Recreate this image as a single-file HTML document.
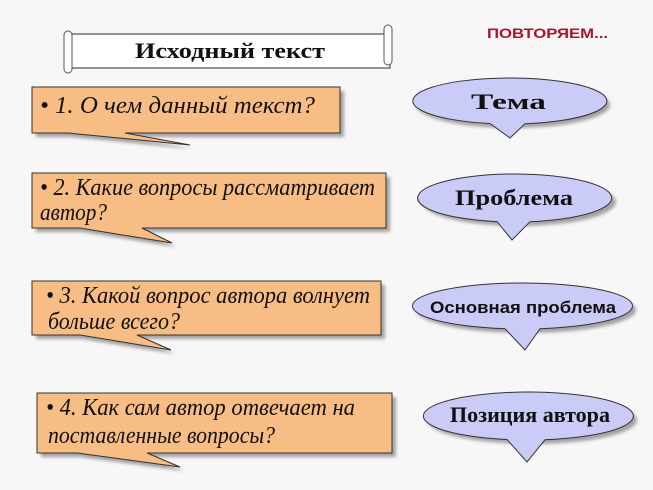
<!DOCTYPE html>
<html><head><meta charset="utf-8"><style>
html,body{margin:0;padding:0;background:#f7f7f7;}
svg{display:block}
.q{font-family:"Liberation Serif","DejaVu Serif",serif;font-style:italic;font-size:24px;fill:#111;}
.b{font-family:"Liberation Serif",serif;font-weight:bold;font-size:22px;fill:#111;}
</style></head><body>
<svg width="653" height="490" viewBox="0 0 653 490" xmlns="http://www.w3.org/2000/svg">
<defs><filter id="sh" x="-10%" y="-10%" width="130%" height="140%"><feGaussianBlur stdDeviation="1.5"/></filter></defs>
<rect width="653" height="490" fill="#f7f7f7"/>
<path d="M70 34 H390 V68 H70 Z" fill="#fff" stroke="#555" stroke-width="1.2"/>
<rect x="64" y="31" width="8" height="42" rx="4" fill="#fff" stroke="#555"/>
<rect x="384" y="25" width="8" height="40" rx="4" fill="#fff" stroke="#555"/>
<text x="135" y="58" class="b" textLength="190" lengthAdjust="spacingAndGlyphs">Исходный текст</text>
<text x="487" y="38" font-family="Liberation Sans,sans-serif" font-size="14" font-weight="bold" fill="#b01030" textLength="121" lengthAdjust="spacingAndGlyphs">ПОВТОРЯЕМ...</text>

<g fill="#6a6a6a" opacity="0.6" filter="url(#sh)">
<path d="M36 91 H344 V137 H128 L194 149 L70 137 H36Z"/>
<path d="M36 177 H390 V232 H145 L176 247 L82 232 H36Z"/>
<path d="M36 285 H385 V339 H140 L175 354 L82 339 H36Z"/>
<path d="M41 397 H396 V457 H150 L184 471 L80 457 H41Z"/>
</g>
<g fill="#f8bd85" stroke="#333" stroke-width="1">
<path d="M32 87 H340 V133 H125 L190 145 L68 133 H32Z"/>
<path d="M32 173 H386 V228 H142 L172 243 L80 228 H32Z"/>
<path d="M32 281 H381 V335 H137 L171 350 L80 335 H32Z"/>
<path d="M37 393 H392 V453 H147 L180 467 L77 453 H37Z"/>
</g>
<text x="40" y="113" class="q" textLength="275" lengthAdjust="spacingAndGlyphs">• 1. О чем данный текст?</text>
<text x="40" y="195" class="q" textLength="335" lengthAdjust="spacingAndGlyphs">• 2. Какие вопросы рассматривает</text>
<text x="40" y="220" class="q" textLength="67" lengthAdjust="spacingAndGlyphs">автор?</text>
<text x="46" y="303" class="q" textLength="324" lengthAdjust="spacingAndGlyphs">• 3. Какой вопрос автора волнует</text>
<text x="48" y="329" class="q" textLength="132" lengthAdjust="spacingAndGlyphs">больше всего?</text>
<text x="46" y="415" class="q" textLength="309" lengthAdjust="spacingAndGlyphs">• 4. Как сам автор отвечает на</text>
<text x="48" y="443" class="q" textLength="227" lengthAdjust="spacingAndGlyphs">поставленные вопросы?</text>

<g fill="#6a6a6a" opacity="0.6" filter="url(#sh)">
<ellipse cx="513" cy="105" rx="97" ry="23"/>
<ellipse cx="519" cy="202" rx="97" ry="24"/>
<ellipse cx="526" cy="310" rx="110" ry="23"/>
<ellipse cx="532" cy="420" rx="105" ry="24"/>
</g>
<g fill="#cbcbf8" stroke="#333" stroke-width="1">
<path d="M490 123.5 A97 23 0 1 1 525 123.7 L510 138 Z"/>
<path d="M497 221.6 A97 24 0 1 1 530 221.7 L512 240 Z"/>
<path d="M505 328.7 A110 23 0 1 1 540 328.7 L525 350 Z"/>
<path d="M507 439.5 A105 24 0 1 1 545 439.7 L527 462 Z"/>
</g>
<text x="471" y="109" class="b" textLength="75" lengthAdjust="spacingAndGlyphs">Тема</text>
<text x="455" y="205" class="b" textLength="118" lengthAdjust="spacingAndGlyphs">Проблема</text>
<text x="430" y="313" font-family="Liberation Sans,sans-serif" font-weight="bold" font-size="17" fill="#111" textLength="186" lengthAdjust="spacingAndGlyphs">Основная проблема</text>
<text x="450" y="422" class="b" textLength="160" lengthAdjust="spacingAndGlyphs">Позиция автора</text>
</svg>
</body></html>
